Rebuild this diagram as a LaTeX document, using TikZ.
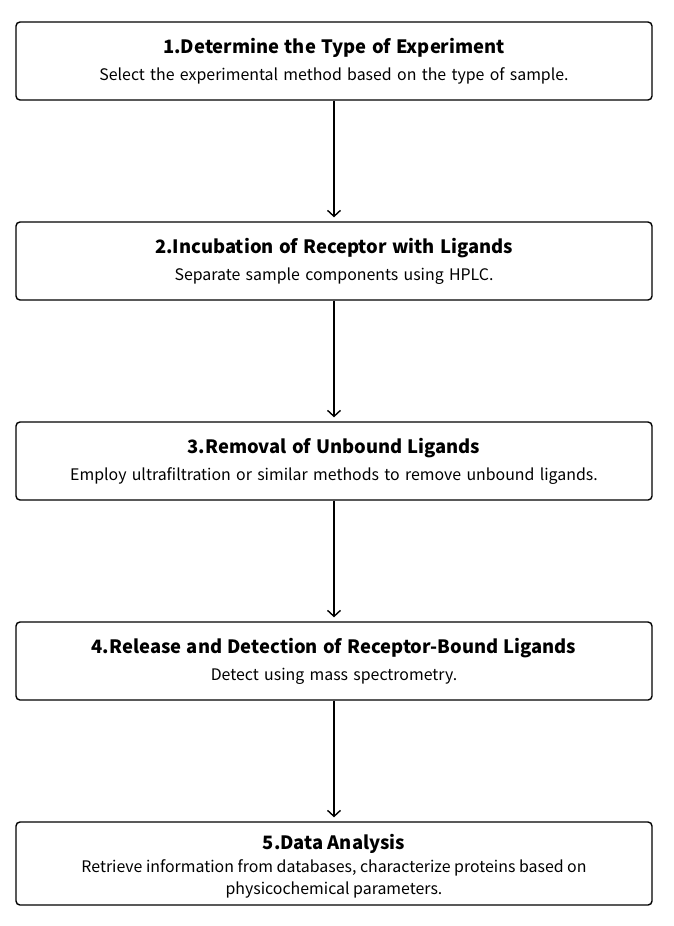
\documentclass[tikz,border=0pt]{standalone}
\usepackage{fontspec}
\setmainfont{Noto Sans CJK SC}
\usetikzlibrary{arrows.meta}

\begin{document}
\begin{tikzpicture}[x=1pt,y=-1pt]
\tikzstyle{stepbox}=[draw,black,line width=1.4pt,rounded corners=4pt,minimum width=636pt,minimum height=78pt,text width=620pt,align=center,inner sep=0pt,font=\fontsize{15.9}{22}\selectfont]
\tikzstyle{flow}=[-{Straight Barb[length=6pt,width=13pt,line width=1.4pt]},line width=1.4pt,shorten >=4pt]
\useasboundingbox (0,0) rectangle (674,926);

\node[stepbox](S1) at (334,61) {{\fontsize{18.4}{22}\selectfont\bfseries 1.Determine the Type of Experiment}\\[5pt] Select the experimental method based on the type of sample.};
\node[stepbox](S2) at (334,261) {{\fontsize{18.4}{22}\selectfont\bfseries 2.Incubation of Receptor with Ligands}\\[5pt] Separate sample components using HPLC.};
\node[stepbox](S3) at (334,461) {{\fontsize{18.4}{22}\selectfont\bfseries 3.Removal of Unbound Ligands}\\[5pt] Employ ultrafiltration or similar methods to remove unbound ligands.};
\node[stepbox](S4) at (334,661) {{\fontsize{18.4}{22}\selectfont\bfseries 4.Release and Detection of Receptor-Bound Ligands}\\[5pt] Detect using mass spectrometry.};
\node[stepbox,minimum height=83pt](S5) at (334,863.5) {};
\node[inner sep=0pt,align=center,font=\fontsize{15.9}{22}\selectfont](T5) at (334,866) {{\fontsize{18.4}{22}\selectfont\bfseries 5.Data Analysis}\\[1pt] Retrieve information from databases, characterize proteins based on\\ physicochemical parameters.};

\draw[flow] (S1) -- (S2);
\draw[flow] (S2) -- (S3);
\draw[flow] (S3) -- (S4);
\draw[flow] (S4) -- (S5);
\end{tikzpicture}
\end{document}
